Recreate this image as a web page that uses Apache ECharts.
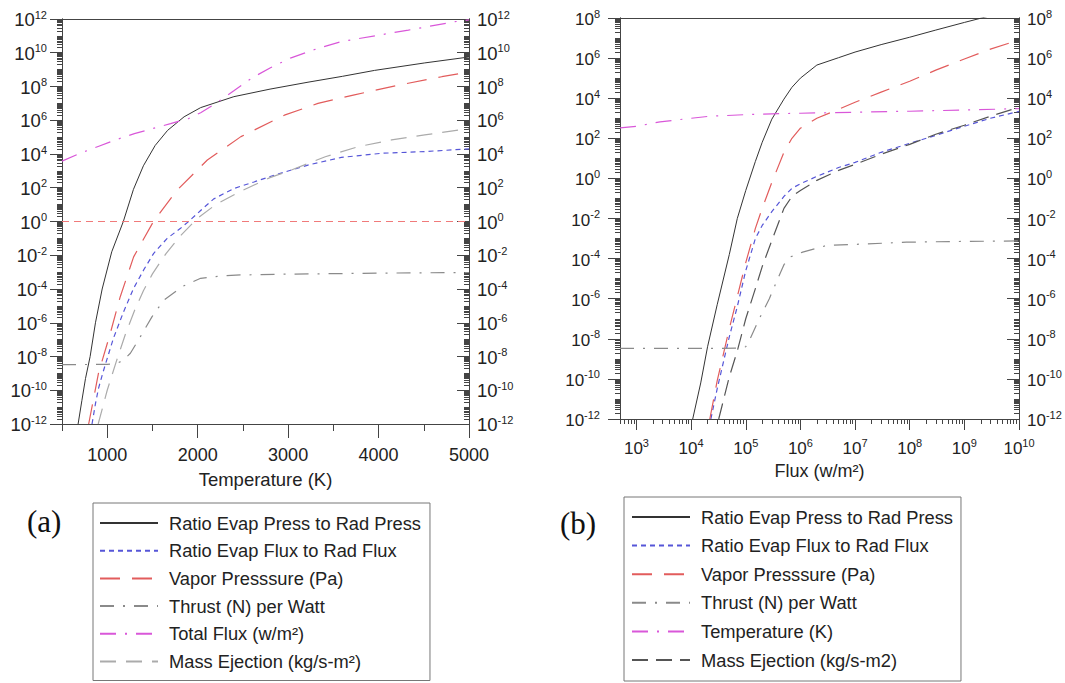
<!DOCTYPE html>
<html><head><meta charset="utf-8">
<script src="https://cdn.jsdelivr.net/npm/echarts@6/dist/echarts.min.js"></script>
<style>html,body{margin:0;padding:0;background:#fff}#c{width:1065px;height:683px}</style>
</head><body><div id="c"></div>
<script>
// ---------- Chart (a): x = Temperature (K) ----------
const aXLabels = [1000, 2000, 3000, 4000, 5000];
const aXMinor = [500, 1500, 2500, 3500, 4500];
const aYExp = [-12, -10, -8, -6, -4, -2, 0, 2, 4, 6, 8, 10, 12];

const aPressT = [678, 720, 760, 811, 870, 944, 1050, 1178, 1290, 1400, 1530, 1667, 1850, 2033, 2400, 2800, 3220, 3600, 3956, 4511, 5000];
const aPressV = [1e-12, 2.5e-11, 5e-10, 1e-8, 1e-6, 1e-4, 1.6e-2, 1, 80, 2e3, 3.2e4, 2.5e5, 1.6e6, 5.6e6, 2.5e7, 7e7, 1.8e8, 4e8, 9e8, 2.5e9, 5.6e9];

const aFluxT = [832, 870, 903, 950, 989, 1070, 1181, 1292, 1403, 1514, 1663, 1811, 1900, 2033, 2178, 2400, 2622, 2848, 3219, 3589, 4033, 4511, 5000];
const aFluxV = [1e-12, 1.6e-11, 1.26e-10, 1e-9, 5e-9, 1.26e-7, 4.5e-6, 1.1e-4, 1.35e-3, 1.3e-2, 0.1, 0.4, 1, 4.5, 22, 90, 220, 560, 2200, 6300, 1.1e4, 1.4e4, 2e4];

const aVapT = [795, 903, 1033, 1144, 1292, 1511, 1774, 2107, 2478, 2959, 3330, 3733, 4218, 4700, 5000];
const aVapV = [1e-12, 1e-9, 2.3e-7, 3.5e-5, 8e-3, 1, 74, 4.4e3, 1.07e5, 2e6, 1e7, 3.2e7, 1.2e8, 3.8e8, 7.2e8];

const aThrustT = [500, 1000, 1100, 1170, 1256, 1367, 1496, 1626, 1830, 2033, 2256, 2478, 3000, 3500, 4000, 4500, 5000];
const aThrustV = [3.3e-9, 3.4e-9, 3.8e-9, 5.6e-9, 1.55e-8, 1.5e-7, 2.3e-6, 2.2e-5, 1.4e-4, 4.3e-4, 5.9e-4, 6.8e-4, 7.6e-4, 8.1e-4, 8.7e-4, 9.1e-4, 9.5e-4];

const aTotalT = [500, 700, 900, 1100, 1300, 1500, 1700, 1900, 2033, 2200, 2400, 2600, 2800, 3033, 3300, 3589, 4000, 4330, 4844, 5000];
const aTotalV = [3.8e3, 1.1e4, 2.8e4, 7.1e4, 1.6e5, 3.2e5, 6.3e5, 1.26e6, 2.8e6, 1e7, 5.6e7, 3.2e8, 1.26e9, 5e9, 1.6e10, 4.6e10, 1.1e11, 2.2e11, 6.9e11, 8.9e11];

const aMassT = [900, 1000, 1100, 1200, 1300, 1400, 1500, 1650, 1800, 2000, 2200, 2478, 2800, 3033, 3411, 3774, 4144, 4511, 4885, 5000];
const aMassV = [1e-12, 1e-10, 5e-9, 2e-7, 5e-6, 7.9e-5, 7.9e-4, 1.26e-2, 0.126, 1.6, 10, 63, 400, 1.1e3, 6.9e3, 2.7e4, 6.8e4, 1.35e5, 2.6e5, 3.2e5];

const aUnityT = [500, 5000];
const aUnityV = [1, 1];

// ---------- Chart (b): x = Flux (w/m2) ----------
const bXExp = [3, 4, 5, 6, 7, 8, 9, 10];
const bYExp = [-12, -10, -8, -6, -4, -2, 0, 2, 4, 6, 8];

const bPressF = [1.07e4, 1.5e4, 2e4, 3e4, 5e4, 7e4, 1e5, 1.5e5, 2e5, 3e5, 5e5, 7e5, 1e6, 2e6, 5e6, 1e7, 3e7, 1e8, 3e8, 1e9, 3e9, 1e10];
const bPressV = [1e-12, 6.3e-11, 4e-9, 5e-7, 1.6e-4, 1e-2, 0.25, 7, 63, 900, 9e3, 3.5e4, 1e5, 4.5e5, 1.05e6, 2e6, 4.7e6, 1.1e7, 2.5e7, 6e7, 1.3e8, 3.2e8];

const bFluxF = [2.3e4, 3e4, 5e4, 7e4, 1e5, 1.5e5, 2e5, 3e5, 5e5, 7e5, 1e6, 2e6, 5e6, 1e7, 3e7, 1e8, 3e8, 1e9, 3e9, 1e10];
const bFluxV = [1e-12, 3.2e-11, 1.26e-8, 4e-7, 2.5e-5, 1e-3, 4.5e-3, 2.2e-2, 0.126, 0.32, 0.54, 1.26, 3.5, 6.3, 20, 56, 140, 400, 1e3, 2.2e3];

const bVapF = [2.2e4, 3e4, 5e4, 7e4, 1e5, 1.5e5, 2e5, 3e5, 5e5, 7e5, 1e6, 2e6, 5e6, 1e7, 3e7, 1e8, 3e8, 1e9, 3e9, 1e10];
const bVapV = [1e-12, 8e-11, 3.2e-8, 1.26e-6, 6.3e-5, 3.2e-3, 3.2e-2, 0.63, 20, 100, 320, 1e3, 2.8e3, 6.3e3, 2e4, 7e4, 2.5e5, 9e5, 2.8e6, 8e6];

const bThrustF = [500, 1e4, 8e4, 1e5, 1.2e5, 1.7e5, 2.7e5, 4e5, 5e5, 6.5e5, 1.1e6, 3e6, 1.6e7, 8.7e7, 6.3e8, 3.4e9, 1e10];
const bThrustV = [3.3e-9, 3.3e-9, 3.4e-9, 4e-9, 1e-8, 8e-8, 1e-6, 1.26e-5, 5e-5, 1.2e-4, 2.1e-4, 4.5e-4, 5.4e-4, 6.6e-4, 7.1e-4, 7.4e-4, 7.6e-4];

const bTempF = [500, 1e3, 2.7e3, 1e4, 2.2e4, 1e5, 3e5, 1e6, 1e7, 1e8, 1e9, 1e10];
const bTempV = [331, 398, 660, 1000, 1260, 1510, 1660, 1780, 2000, 2240, 2570, 3020];

const bMassF = [3.2e4, 5e4, 7e4, 1e5, 1.5e5, 2e5, 3e5, 5e5, 7e5, 1e6, 2e6, 5e6, 1e7, 3e7, 1e8, 3e8, 1e9, 3e9, 1e10];
const bMassV = [1e-12, 1.26e-10, 2.5e-9, 1e-7, 3.2e-6, 4e-5, 8e-4, 3.2e-2, 0.126, 0.25, 0.8, 2.5, 5, 16, 50, 160, 450, 1.26e3, 3.5e3];

// ---------- names ----------
const N_PRESS = 'Ratio Evap Press to Rad Press';
const N_FLUX = 'Ratio Evap Flux to Rad Flux';
const N_VAP = 'Vapor Presssure (Pa)';
const N_THRUST = 'Thrust (N) per Watt';
const N_TOTAL = 'Total Flux (w/m\u00B2)';
const N_TEMP = 'Temperature (K)';
const N_MASS_A = 'Mass Ejection (kg/s-m\u00B2)';
const N_MASS_B = 'Mass Ejection (kg/s-m2)';

// ---------- helpers ----------
const FONT = '"Liberation Sans", Arial, sans-serif';
const AX = '#444';
const TXT = '#222';
const zip = (xs, ys) => xs.map((x, i) => [x, ys[i]]);
const pow10 = e => Number('1e' + e);
const expTicks = exps => exps.map(pow10);
function minorLog(e0, e1, lo, hi, skip) {
  const out = [];
  for (let e = e0; e <= e1; e++) for (let k = 1; k <= 9; k++) {
    const v = Number(k + 'e' + e);
    if (v >= lo && v <= hi && !skip.includes(v)) out.push(v);
  }
  return out;
}
function supFmt(v) { return '{b|10}{s|' + Math.round(Math.log10(v)) + '}'; }
function rich(size) {
  return {
    b: { fontSize: size, lineHeight: 20, fontFamily: FONT, color: TXT, verticalAlign: 'bottom' },
    s: { fontSize: 11, lineHeight: 11, fontFamily: FONT, color: TXT, verticalAlign: 'top' }
  };
}
const blank = () => '';

const aYMajor = expTicks(aYExp);
const aYMinor = minorLog(-12, 11, 1e-12, 1e12, aYMajor);
const bYMajor = expTicks(bYExp);
const bYMinor = minorLog(-12, 7, 1e-12, 1e8, bYMajor);
const bXMajor = expTicks(bXExp);
const bXMinor = minorLog(2, 9, 500, 1e10, bXMajor);

function yAxisPair(grid, min, max, major, minor, pos, margin, labSize) {
  const inside = pos === 'right';
  return [
    { gridIndex: grid, type: 'log', min, max, position: pos,
      axisLine: { show: true, onZero: false, lineStyle: { color: AX, width: 1 } },
      axisTick: { show: true, inside, length: 12, customValues: major, lineStyle: { color: AX } },
      axisLabel: { customValues: major, formatter: supFmt, rich: rich(labSize), margin },
      splitLine: { show: false }, minorTick: { show: false } },
    { gridIndex: grid, type: 'log', min, max, position: pos,
      axisLine: { show: true, onZero: false, lineStyle: { color: AX, width: 1 } },
      axisTick: { show: true, inside, length: 5, customValues: minor, lineStyle: { color: AX } },
      axisLabel: { show: true, customValues: minor, formatter: blank },
      splitLine: { show: false } }
  ];
}

const xAxes = [
  // (a) bottom major
  { gridIndex: 0, type: 'value', min: 500, max: 5000, position: 'bottom',
    name: N_TEMP, nameLocation: 'middle', nameGap: 42,
    nameTextStyle: { fontSize: 18.5, fontFamily: FONT, color: TXT },
    axisLine: { show: true, onZero: false, lineStyle: { color: AX } },
    axisTick: { show: true, length: 14, customValues: aXLabels, lineStyle: { color: AX } },
    axisLabel: { customValues: aXLabels, formatter: v => String(v), fontSize: 18, lineHeight: 20, fontFamily: FONT, color: TXT, margin: 21 },
    splitLine: { show: false } },
  // (a) bottom minor
  { gridIndex: 0, type: 'value', min: 500, max: 5000, position: 'bottom',
    axisLine: { show: true, onZero: false, lineStyle: { color: AX } },
    axisTick: { show: true, length: 7, customValues: aXMinor, lineStyle: { color: AX } },
    axisLabel: { show: true, customValues: aXMinor, formatter: blank }, splitLine: { show: false } },
  // (a) top border
  { gridIndex: 0, type: 'value', min: 500, max: 5000, position: 'top',
    axisLine: { show: true, onZero: false, lineStyle: { color: AX } },
    axisTick: { show: false }, axisLabel: { show: false }, splitLine: { show: false } },
  // (b) bottom major
  { gridIndex: 1, type: 'log', min: 500, max: 1e10, position: 'bottom',
    name: 'Flux (w/m\u00B2)', nameLocation: 'middle', nameGap: 41,
    nameTextStyle: { fontSize: 18, fontFamily: FONT, color: TXT },
    axisLine: { show: true, onZero: false, lineStyle: { color: AX } },
    axisTick: { show: true, length: 11, customValues: bXMajor, lineStyle: { color: AX } },
    axisLabel: { customValues: bXMajor, formatter: supFmt, rich: rich(17), margin: 18 },
    splitLine: { show: false } },
  // (b) bottom minor
  { gridIndex: 1, type: 'log', min: 500, max: 1e10, position: 'bottom',
    axisLine: { show: true, onZero: false, lineStyle: { color: AX } },
    axisTick: { show: true, length: 5, customValues: bXMinor, lineStyle: { color: AX } },
    axisLabel: { show: true, customValues: bXMinor, formatter: blank }, splitLine: { show: false } },
  // (b) top border
  { gridIndex: 1, type: 'log', min: 500, max: 1e10, position: 'top',
    axisLine: { show: true, onZero: false, lineStyle: { color: AX } },
    axisTick: { show: false }, axisLabel: { show: false }, splitLine: { show: false } }
];

const yAxes = [].concat(
  yAxisPair(0, 1e-12, 1e12, aYMajor, aYMinor, 'left', 15, 18.5),
  yAxisPair(0, 1e-12, 1e12, aYMajor, aYMinor, 'right', 8, 18.5),
  yAxisPair(1, 1e-12, 1e8, bYMajor, bYMinor, 'left', 20, 17),
  yAxisPair(1, 1e-12, 1e8, bYMajor, bYMinor, 'right', 8, 17)
);

const ST = {
  press: { color: '#333333', type: 'solid', width: 1 },
  flux: { color: '#5656d8', type: [5, 4], width: 1.2 },
  vap: { color: '#e25c5c', type: [20, 12], width: 1.2 },
  thrust: { color: '#8a8a8a', type: [14, 9, 2, 9], width: 1.2 },
  total: { color: '#d957d9', type: [16, 9, 2, 9], width: 1.2 },
  massA: { color: '#ababab', type: [16, 10], width: 1.2 },
  massB: { color: '#555555', type: [16, 8], width: 1.2 },
  unity: { color: '#f07a7a', type: [7, 5], width: 1.2 }
};

function line(name, data, style, xi, yi) {
  return { type: 'line', name, data, xAxisIndex: xi, yAxisIndex: yi,
    symbol: 'none', showSymbol: false, smooth: false, clip: true, silent: true,
    lineStyle: { color: style.color, type: style.type, width: style.width },
    itemStyle: { color: style.color }, animation: false };
}

const series = [
  line(N_PRESS, zip(aPressT, aPressV), ST.press, 0, 0),
  line(N_FLUX, zip(aFluxT, aFluxV), ST.flux, 0, 0),
  line(N_VAP, zip(aVapT, aVapV), ST.vap, 0, 0),
  line(N_THRUST, zip(aThrustT, aThrustV), ST.thrust, 0, 0),
  line(N_TOTAL, zip(aTotalT, aTotalV), ST.total, 0, 0),
  line(N_MASS_A, zip(aMassT, aMassV), ST.massA, 0, 0),
  line('unity', zip(aUnityT, aUnityV), ST.unity, 0, 0),
  line(N_PRESS, zip(bPressF, bPressV), ST.press, 3, 4),
  line(N_FLUX, zip(bFluxF, bFluxV), ST.flux, 3, 4),
  line(N_VAP, zip(bVapF, bVapV), ST.vap, 3, 4),
  line(N_THRUST, zip(bThrustF, bThrustV), ST.thrust, 3, 4),
  line(N_TEMP, zip(bTempF, bTempV), ST.total, 3, 4),
  line(N_MASS_B, zip(bMassF, bMassV), ST.massB, 3, 4)
];

function legend(left, top, data, gap, padding) {
  return { orient: 'vertical', left, top, data, itemWidth: 58, itemHeight: 14, itemGap: gap,
    padding, borderColor: '#777', borderWidth: 1, selectedMode: false,
    itemStyle: { color: 'rgba(0,0,0,0)', borderWidth: 0, opacity: 0 },
    textStyle: { fontSize: 18.3, lineHeight: 20, fontFamily: FONT, color: TXT, padding: [0, 0, 0, 6] } };
}

const chart = echarts.init(document.getElementById('c'), null, { renderer: 'svg' });
chart.setOption({
  backgroundColor: '#ffffff',
  animation: false,
  grid: [
    { left: 62, right: 596, top: 19, bottom: 259, containLabel: false },
    { left: 620, right: 46, top: 18, bottom: 264, containLabel: false }
  ],
  xAxis: xAxes,
  yAxis: yAxes,
  legend: [
    legend(93, 503, [N_PRESS, N_FLUX, N_VAP, N_THRUST, N_TOTAL, N_MASS_A], 7.7, [10, 9, 9, 6]),
    legend(624, 497, [N_PRESS, N_FLUX, N_VAP, N_THRUST, N_TEMP, N_MASS_B], 8.6, [10, 8, 11, 7])
  ],
  graphic: [
    { type: 'text', left: 27, top: 506, style: { text: '(a)', font: '31px "Liberation Serif", "Times New Roman", serif', fill: '#111' } },
    { type: 'text', left: 560, top: 508, style: { text: '(b)', font: '31px "Liberation Serif", "Times New Roman", serif', fill: '#111' } }
  ],
  series
});
</script></body></html>
